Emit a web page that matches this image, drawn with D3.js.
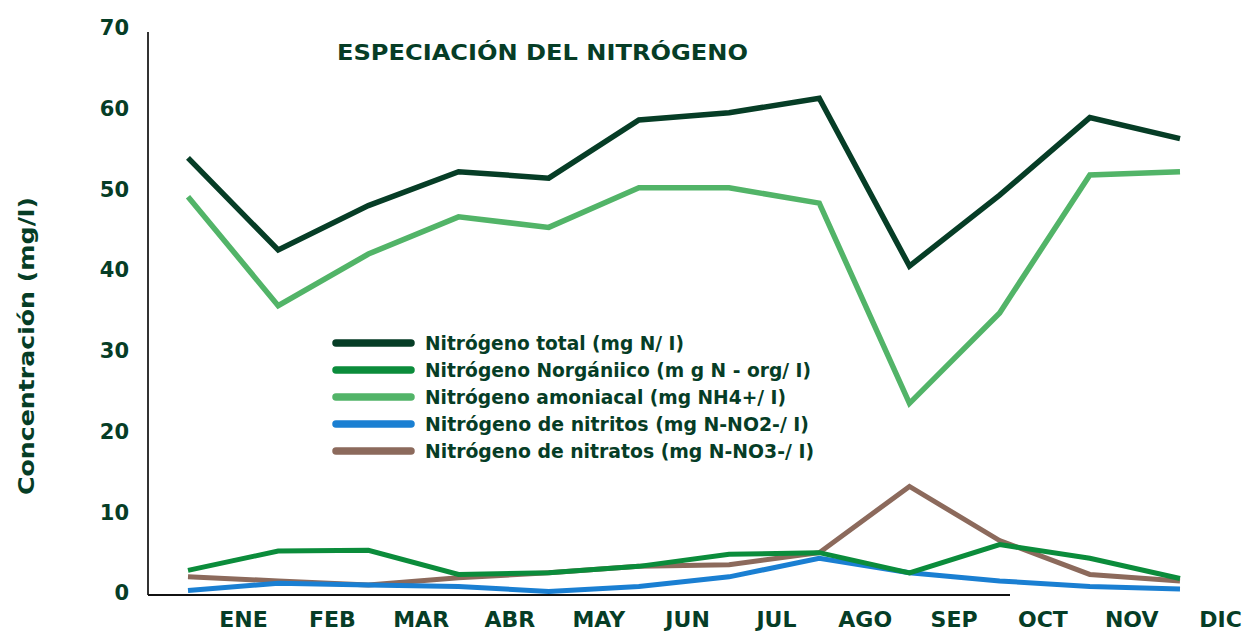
<!DOCTYPE html>
<html><head><meta charset="utf-8">
<script src="https://cdn.jsdelivr.net/npm/d3@7"></script>
<style>
html,body{margin:0;padding:0;background:#fff;}
text{font-family:"DejaVu Sans",sans-serif;font-weight:bold;}
</style></head>
<body><svg id="c" width="1252" height="636"></svg>
<script>
const months = ["ENE","FEB","MAR","ABR","MAY","JUN","JUL","AGO","SEP","OCT","NOV","DIC"];
const yTicks = [0,10,20,30,40,50,60,70];
const total      = [53.9,42.5,48.0,52.2,51.4,58.6,59.5,61.3,40.5,49.3,58.9,56.3];
const norganico  = [2.8,5.2,5.3,2.3,2.5,3.3,4.8,5.0,2.5,6.0,4.3,1.8];
const amoniacal  = [49.1,35.6,42.0,46.6,45.3,50.2,50.2,48.3,23.5,34.7,51.8,52.2];
const nitritos   = [0.3,1.2,1.0,0.8,0.2,0.8,2.0,4.3,2.5,1.5,0.8,0.5];
const nitratos   = [2.0,1.5,1.0,1.9,2.5,3.3,3.5,5.0,13.2,6.5,2.3,1.5];
const seriesNames = ["Nitrógeno total (mg N/ I)","Nitrógeno Norgániico (m g N - org/ I)","Nitrógeno amoniacal (mg NH4+/ I)","Nitrógeno de nitritos (mg N-NO2-/ I)","Nitrógeno de nitratos (mg N-NO3-/ I)"];
const colors = ["#063d26","#0b8c3b","#52b468","#1a7fd2","#8c6a5c"];
const title = "ESPECIACIÓN DEL NITRÓGENO";
const yLabel = "Concentración (mg/l)";

const svg = d3.select("#c");
const textColor = "#063d26";
const x = d3.scalePoint().domain(months).range([188,1180]);
const xl = d3.scalePoint().domain(months).range([243,1220]);
const y = d3.scaleLinear().domain([0,70]).range([593,28]);

// axes lines
svg.append("line").attr("x1",148).attr("x2",148).attr("y1",y(70)+4).attr("y2",y(0)+2)
  .attr("stroke","#333").attr("stroke-width",2);
svg.append("line").attr("x1",148).attr("x2",1010).attr("y1",y(0)+2).attr("y2",y(0)+2)
  .attr("stroke","#111").attr("stroke-width",2);

// y ticks
const yAxis = d3.axisLeft(y).tickValues(yTicks).tickSize(0).tickPadding(0);
const gy = svg.append("g").attr("transform","translate(129,0)").call(yAxis);
gy.select(".domain").remove();
gy.selectAll("text").attr("fill",textColor).style("font-size","21px")
  .style("font-family","DejaVu Sans, sans-serif").style("font-weight","bold");

// x labels
const xAxis = d3.axisBottom(xl).tickSize(0).tickPadding(0);
const gx = svg.append("g").attr("transform","translate(0,611)").call(xAxis);
gx.select(".domain").remove();
gx.selectAll("text").attr("fill",textColor).style("font-size","22px")
  .style("font-family","DejaVu Sans, sans-serif").style("font-weight","bold");

// title
svg.append("text").attr("x",337).attr("y",60).text(title).attr("fill",textColor)
  .style("font-size","21px").attr("textLength",411).attr("lengthAdjust","spacingAndGlyphs");

// y label
svg.append("text").attr("transform","translate(34,346) rotate(-90)").attr("text-anchor","middle")
  .text(yLabel).attr("fill",textColor).style("font-size","21px")
  .attr("textLength",298).attr("lengthAdjust","spacingAndGlyphs");

const line = d3.line().x((d,i)=>x(months[i])).y(d=>y(d));
const data = [total,norganico,amoniacal,nitritos,nitratos];
[4,3,1,2,0].forEach(k=>{
  svg.append("path").attr("d",line(data[k])).attr("fill","none").attr("stroke",colors[k])
    .attr("stroke-width",k===0||k===2?5.5:5).attr("stroke-linejoin","miter").attr("stroke-linecap","butt");
});

// legend
const legendWidths = [259,386,361,384,389];
const lg = svg.append("g");
seriesNames.forEach((n,i)=>{
  const yy = 343 + i*27;
  lg.append("line").attr("x1",336).attr("x2",411).attr("y1",yy).attr("y2",yy)
    .attr("stroke",colors[i]).attr("stroke-width",7.5).attr("stroke-linecap","round");
  lg.append("text").attr("x",425).attr("y",yy+7).text(n).attr("fill",textColor)
    .style("font-size","19.5px").attr("textLength",legendWidths[i]).attr("lengthAdjust","spacingAndGlyphs");
});
</script></body></html>
